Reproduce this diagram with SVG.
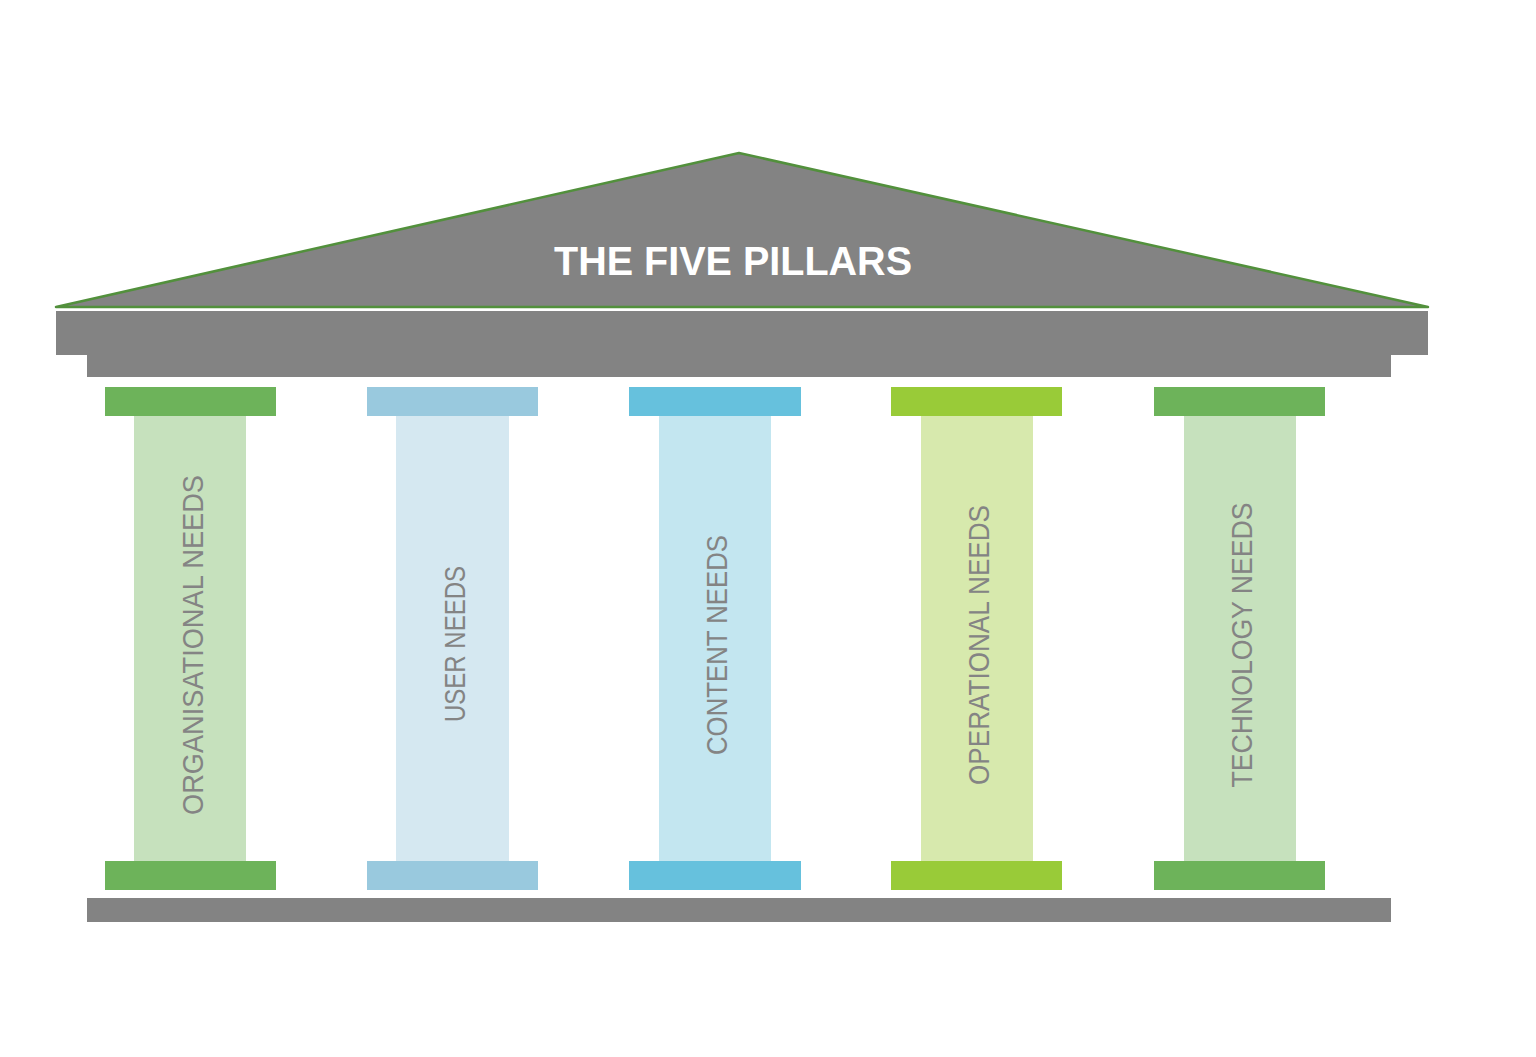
<svg xmlns="http://www.w3.org/2000/svg" width="1536" height="1057" viewBox="0 0 1536 1057">
<style>
.stone{fill:#838383;}
.lbl{font-family:"Liberation Sans",Arial,sans-serif;font-size:30px;fill:#848484;text-anchor:middle;dominant-baseline:central;}
.title{font-family:"Liberation Sans",Arial,sans-serif;font-size:40px;font-weight:bold;fill:#ffffff;text-anchor:middle;}
.g-cap{fill:#6db35a;}.g-sh{fill:#c6e1bd;}
.b-cap{fill:#99c9de;}.b-sh{fill:#d5e8f1;}
.c-cap{fill:#66c1dd;}.c-sh{fill:#c3e6f0;}
.l-cap{fill:#99cb38;}.l-sh{fill:#d7e9ad;}
</style>
<rect width="1536" height="1057" fill="#ffffff"/>
<g id="roof">
<polygon points="739,153 56,307 1428,307" fill="#838383" stroke="#52903c" stroke-width="2.5" stroke-linejoin="round"/>
<text class="title" x="733" y="275" textLength="358" lengthAdjust="spacingAndGlyphs">THE FIVE PILLARS</text>
</g>
<g id="entablature">
<rect class="stone" x="56" y="311" width="1372" height="44"/>
<rect class="stone" x="87" y="354" width="1304" height="23"/>
</g>
<g id="pillar-organisational">
<rect class="g-sh" x="134" y="416" width="112" height="445"/>
<rect class="g-cap" x="105" y="387" width="171" height="29"/>
<rect class="g-cap" x="105" y="861" width="171" height="29"/>
<text class="lbl" transform="translate(192,645) rotate(-90)" textLength="340" lengthAdjust="spacingAndGlyphs">ORGANISATIONAL NEEDS</text>
</g>
<g id="pillar-user">
<rect class="b-sh" x="396" y="416" width="113" height="445"/>
<rect class="b-cap" x="367" y="387" width="171" height="29"/>
<rect class="b-cap" x="367" y="861" width="171" height="29"/>
<text class="lbl" transform="translate(454,644) rotate(-90)" textLength="156" lengthAdjust="spacingAndGlyphs">USER NEEDS</text>
</g>
<g id="pillar-content">
<rect class="c-sh" x="659" y="416" width="112" height="445"/>
<rect class="c-cap" x="629" y="387" width="172" height="29"/>
<rect class="c-cap" x="629" y="861" width="172" height="29"/>
<text class="lbl" transform="translate(716,645) rotate(-90)" textLength="220" lengthAdjust="spacingAndGlyphs">CONTENT NEEDS</text>
</g>
<g id="pillar-operational">
<rect class="l-sh" x="921" y="416" width="112" height="445"/>
<rect class="l-cap" x="891" y="387" width="171" height="29"/>
<rect class="l-cap" x="891" y="861" width="171" height="29"/>
<text class="lbl" transform="translate(978,645) rotate(-90)" textLength="280" lengthAdjust="spacingAndGlyphs">OPERATIONAL NEEDS</text>
</g>
<g id="pillar-technology">
<rect class="g-sh" x="1184" y="416" width="112" height="445"/>
<rect class="g-cap" x="1154" y="387" width="171" height="29"/>
<rect class="g-cap" x="1154" y="861" width="171" height="29"/>
<text class="lbl" transform="translate(1241,645) rotate(-90)" textLength="285" lengthAdjust="spacingAndGlyphs">TECHNOLOGY NEEDS</text>
</g>
<g id="floor">
<rect class="stone" x="87" y="898" width="1304" height="24"/>
</g>
<g id="connectors"></g>
</svg>
